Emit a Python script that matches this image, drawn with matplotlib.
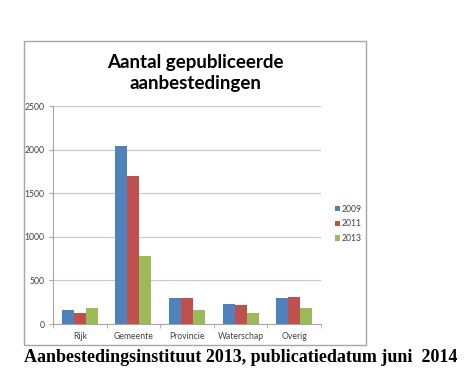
import matplotlib
matplotlib.use("Agg")
import matplotlib.pyplot as plt
import numpy as np
from matplotlib.patches import Rectangle

categories = ["Rijk", "Gemeente", "Provincie", "Waterschap", "Overig"]
years = ["2009", "2011", "2013"]
v2009 = [160, 2045, 295, 226, 302]
v2011 = [130, 1697, 302, 222, 310]
v2013 = [180, 780, 157, 123, 183]
colors = ["#4F81BD", "#C0504D", "#9BBB59"]
yticks = [0, 500, 1000, 1500, 2000, 2500]

W, H = 465, 377
fig = plt.figure(figsize=(W/100, H/100), dpi=100)

def fx(px): return px / W
def fy(py): return 1 - py / H

# outer chart frame
fig.patches.append(Rectangle((fx(24), fy(345)), fx(366) - fx(24), fy(41) - fy(345),
                             transform=fig.transFigure, fill=False, edgecolor="#A6A6A6", lw=1.0))

ax = fig.add_axes([fx(53), fy(324), fx(321) - fx(53), fy(106) - fy(324)])
x = np.arange(len(categories))
bw = 0.225
for i, (vals, c, lab) in enumerate(zip([v2009, v2011, v2013], colors, years)):
    ax.bar(x + (i - 1) * bw, vals, bw, color=c, label=lab, zorder=3)

tickfont = {"family": "Lato", "size": 6.2}
ax.set_xlim(-0.5, len(categories) - 0.5)
ax.set_ylim(0, 2500)
ax.set_yticks(yticks)
ax.set_yticklabels([str(t) for t in yticks], color="#404040", **tickfont)
ax.set_xticks(x)
ax.set_xticklabels(categories, color="#404040", **tickfont)
ax.set_xticks(np.arange(-0.5, len(categories)), minor=True)
ax.tick_params(axis="x", which="major", length=0, pad=6)
ax.tick_params(axis="x", which="minor", length=3, color="#A6A6A6")
ax.tick_params(axis="y", length=3, color="#A6A6A6", pad=3)
ax.grid(axis="y", color="#C8C8C8", lw=0.8, zorder=0)
for s in ["top", "right"]:
    ax.spines[s].set_visible(False)
for s in ["left", "bottom"]:
    ax.spines[s].set_color("#A6A6A6")
    ax.spines[s].set_linewidth(0.8)

leg = fig.legend(loc="upper left", bbox_to_anchor=(fx(327), fy(197)), frameon=False,
                 handlelength=0.6, handleheight=0.6, handletextpad=0.2,
                 labelspacing=0.65, prop={"family": "Lato", "size": 6.2})
for t in leg.get_texts():
    t.set_color("#404040")

fig.text(fx(195), fy(73), "Aantal gepubliceerde\naanbestedingen", ha="center", va="center",
         fontsize=13.5, fontweight="bold", family="Lato", linespacing=1.3, color="#000000")

fig.text(fx(241), fy(357), "Aanbestedingsinstituut 2013, publicatiedatum juni  2014",
         ha="center", va="center", fontsize=13, fontweight="bold", family="Liberation Serif")

fig.savefig("out.png", dpi=100, facecolor="white")
